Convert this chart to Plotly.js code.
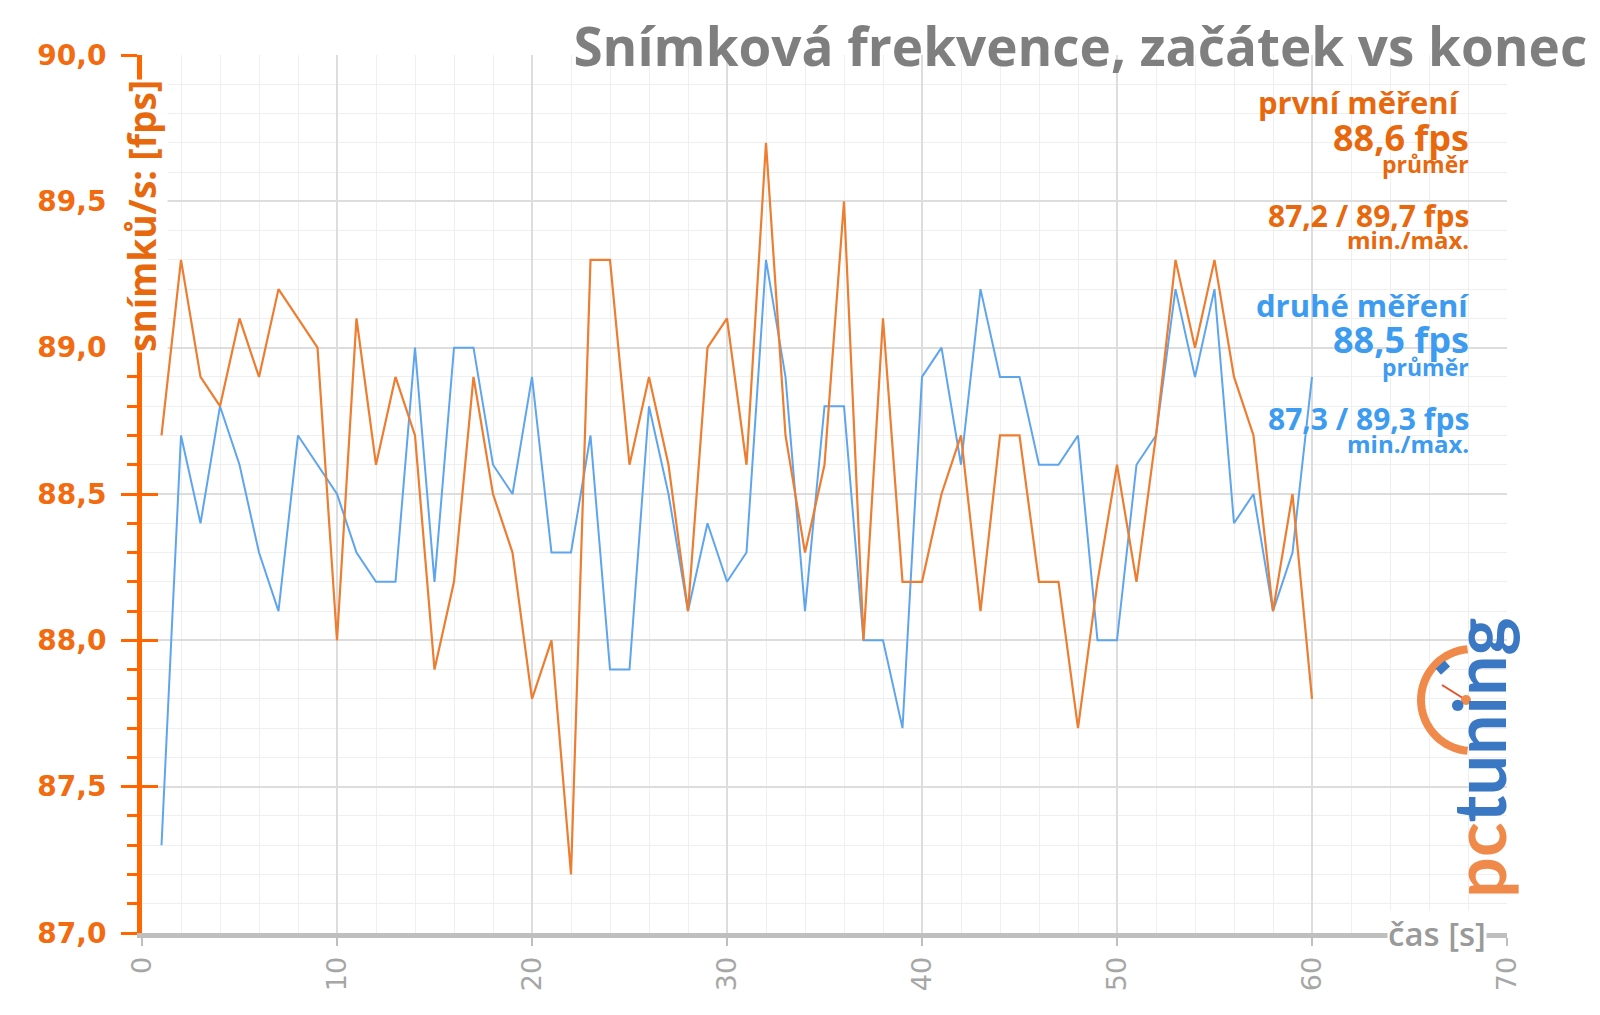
<!DOCTYPE html>
<html>
<head>
<meta charset="utf-8">
<script src="https://cdn.plot.ly/plotly-3.0.1.min.js"></script>
<style>
  html, body { margin: 0; padding: 0; background: #fff; }
  #chart { width: 1600px; height: 1015px; }
</style>
</head>
<body>
<div id="chart"></div>
<script>
// čas [s]
const seconds = Array.from({ length: 60 }, (_, i) => i + 1);

// první měření (orange)
const firstRun = [
    88.7, 89.3, 88.9, 88.8, 89.1, 88.9, 89.2, 89.1, 89.0, 88.0,
    89.1, 88.6, 88.9, 88.7, 87.9, 88.2, 88.9, 88.5, 88.3, 87.8,
    88.0, 87.2, 89.3, 89.3, 88.6, 88.9, 88.6, 88.1, 89.0, 89.1,
    88.6, 89.7, 88.7, 88.3, 88.6, 89.5, 88.0, 89.1, 88.2, 88.2,
    88.5, 88.7, 88.1, 88.7, 88.7, 88.2, 88.2, 87.7, 88.2, 88.6,
    88.2, 88.7, 89.3, 89.0, 89.3, 88.9, 88.7, 88.1, 88.5, 87.8
];

// druhé měření (blue)
const secondRun = [
    87.3, 88.7, 88.4, 88.8, 88.6, 88.3, 88.1, 88.7, 88.6, 88.5,
    88.3, 88.2, 88.2, 89.0, 88.2, 89.0, 89.0, 88.6, 88.5, 88.9,
    88.3, 88.3, 88.7, 87.9, 87.9, 88.8, 88.5, 88.1, 88.4, 88.2,
    88.3, 89.3, 88.9, 88.1, 88.8, 88.8, 88.0, 88.0, 87.7, 88.9,
    89.0, 88.6, 89.2, 88.9, 88.9, 88.6, 88.6, 88.7, 88.0, 88.0,
    88.6, 88.7, 89.2, 88.9, 89.2, 88.4, 88.5, 88.1, 88.3, 88.9
];

const seriesNames = ['první měření', 'druhé měření'];
const chartTitle = 'Snímková frekvence, začátek vs konec';
const yTitle = 'snímků/s: [fps]';
const xTitle = 'čas [s]';

const ORANGE = '#ff6600';
const ORANGE_TXT = '#e8680e';
const ORANGE_LINE = '#ed7d31';
const BLUE_TXT = '#3d9bf0';
const BLUE_LINE = '#5ea5ee';
const GREY = '#a6a6a6';
const LOGO_ORANGE = '#f08a4b';
const LOGO_BLUE = '#3b78c4';

// plot box in page pixels, used to place the text blocks and the logo
const L = 142, R = 1507, T = 55, B = 933;
const px = x => (x - L) / (R - L);
const py = y => (B - y) / (B - T);

const fmt = v => v.toFixed(1).replace('.', ',');
const mean = a => a.reduce((s, v) => s + v, 0) / a.length;

function statBlock(name, values, color, top, nameRight) {
    const font = (size) => ({ family: 'Open Sans', size: size, color: color, weight: 700 });
    const rows = [
        [name, 31, 0, nameRight],
        [fmt(mean(values)) + ' fps', 36, 35, 1471],
        ['průměr', 23, 62, 1471],
        [fmt(Math.min(...values)) + ' / ' + fmt(Math.max(...values)) + ' fps', 30, 113, 1471],
        ['min./max.', 24, 138, 1471]
    ];
    return rows.map(([text, size, dy, right]) => ({
        xref: 'paper', yref: 'paper',
        x: px(right), y: py(top + dy),
        xanchor: 'right', yanchor: 'middle',
        text: text, showarrow: false, font: font(size)
    }));
}

// pctuning clock: centre and radius in page pixels
const CX = 1472, CY = 700, RAD = 51;
const polar = (r, deg) => [CX + r * Math.cos(deg * Math.PI / 180), CY - r * Math.sin(deg * Math.PI / 180)];
function arcPath(r, a0, a1) {
    let d = '';
    for (let a = a0; a <= a1; a += 5) {
        const [x, y] = polar(r, a);
        d += (d ? ' L ' : 'M ') + px(x).toFixed(5) + ',' + py(y).toFixed(5);
    }
    return d;
}
function segPath(p0, p1) {
    return 'M ' + px(p0[0]).toFixed(5) + ',' + py(p0[1]).toFixed(5) +
           ' L ' + px(p1[0]).toFixed(5) + ',' + py(p1[1]).toFixed(5);
}

const traces = [
    {
        x: seconds, y: secondRun, yaxis: 'y',
        type: 'scatter', mode: 'lines',
        line: { color: BLUE_LINE, width: 2 },
        name: seriesNames[1]
    },
    {
        x: seconds, y: firstRun, yaxis: 'y2',
        type: 'scatter', mode: 'lines',
        line: { color: ORANGE_LINE, width: 2.2 },
        name: seriesNames[0]
    }
];

const layout = {
    width: 1600,
    height: 1015,
    margin: { l: L, r: 1600 - R, t: T, b: 1015 - B },
    paper_bgcolor: '#ffffff',
    plot_bgcolor: '#ffffff',
    separators: ',.',
    showlegend: false,
    title: {
        text: chartTitle,
        font: { family: 'Open Sans', size: 53, color: '#7f7f7f', weight: 700 },
        xref: 'container', yref: 'container',
        x: 0.992, xanchor: 'right',
        y: 1 - 47 / 1015, yanchor: 'middle'
    },
    xaxis: {
        range: [0, 70],
        tick0: 0, dtick: 10,
        showgrid: true, gridcolor: '#dddddd', gridwidth: 2,
        minor: { dtick: 2, showgrid: true, gridcolor: '#efefef', gridwidth: 1 },
        showline: true, linecolor: '#bfbfbf', linewidth: 5,
        ticks: 'outside', ticklen: 8, tickwidth: 2, tickcolor: '#bfbfbf',
        tickangle: -90,
        tickfont: { family: 'DejaVu Sans', size: 27, color: GREY },
        zeroline: false
    },
    yaxis: {
        range: [87, 90],
        tick0: 87, dtick: 0.5, tickformat: '.1f',
        showgrid: true, gridcolor: '#dddddd', gridwidth: 2,
        minor: {
            dtick: 0.1, showgrid: true, gridcolor: '#efefef', gridwidth: 1,
            ticks: 'outside', ticklen: 10, tickwidth: 3, tickcolor: ORANGE
        },
        showline: true, linecolor: ORANGE, linewidth: 5,
        ticks: 'outside', ticklen: 16, tickwidth: 3, tickcolor: ORANGE,
        ticklabelstandoff: 9,
        tickfont: { family: 'DejaVu Sans', size: 28, color: '#f26b10', weight: 700 },
        zeroline: false
    },
    yaxis2: {
        overlaying: 'y', side: 'left',
        range: [87, 90],
        tick0: 87, dtick: 0.5,
        ticks: 'inside', ticklen: 16, tickwidth: 3, tickcolor: ORANGE,
        showticklabels: false, showgrid: false, showline: false, zeroline: false
    },
    annotations: [
        {
            xref: 'x', yref: 'y', x: 0, y: 89.45,
            xanchor: 'center', yanchor: 'middle',
            text: yTitle, textangle: -90, showarrow: false,
            bgcolor: '#ffffff', borderpad: 0,
            font: { family: 'Open Sans', size: 37, color: ORANGE_TXT, weight: 700 }
        },
        {
            xref: 'x', yref: 'y', x: 66.4, y: 87,
            xanchor: 'center', yanchor: 'middle',
            text: xTitle, showarrow: false,
            bgcolor: '#ffffff', borderpad: 0,
            font: { family: 'Open Sans', size: 33, color: '#9a9a9a', weight: 600 }
        },
        {
            xref: 'paper', yref: 'paper', x: px(1478), y: py(758),
            xanchor: 'center', yanchor: 'middle',
            text: '<span style="color:' + LOGO_ORANGE + '">pc</span><span style="color:' + LOGO_BLUE + '">tuning</span>',
            textangle: -90, showarrow: false,
            font: { family: 'Lato', size: 72, weight: 700 }
        },
        ...statBlock(seriesNames[0], firstRun, ORANGE_TXT, 102, 1462),
        ...statBlock(seriesNames[1], secondRun, BLUE_TXT, 305, 1471)
    ],
    shapes: [
        { type: 'path', xref: 'paper', yref: 'paper', path: arcPath(RAD, 95, 265),
          line: { color: LOGO_ORANGE, width: 8 } },
        { type: 'path', xref: 'paper', yref: 'paper', path: segPath(polar(44, 124), polar(44, 140)),
          line: { color: LOGO_BLUE, width: 8 } },
        { type: 'path', xref: 'paper', yref: 'paper', path: segPath([1442, 685], [1466, 700]),
          line: { color: '#e8502a', width: 2 } },
        { type: 'circle', xref: 'paper', yref: 'paper',
          x0: px(1461), x1: px(1471), y0: py(705), y1: py(695),
          fillcolor: LOGO_ORANGE, line: { width: 0 } }
    ]
};

const config = { responsive: false, displayModeBar: false, staticPlot: true };

Plotly.newPlot('chart', traces, layout, config);
</script>
</body>
</html>
